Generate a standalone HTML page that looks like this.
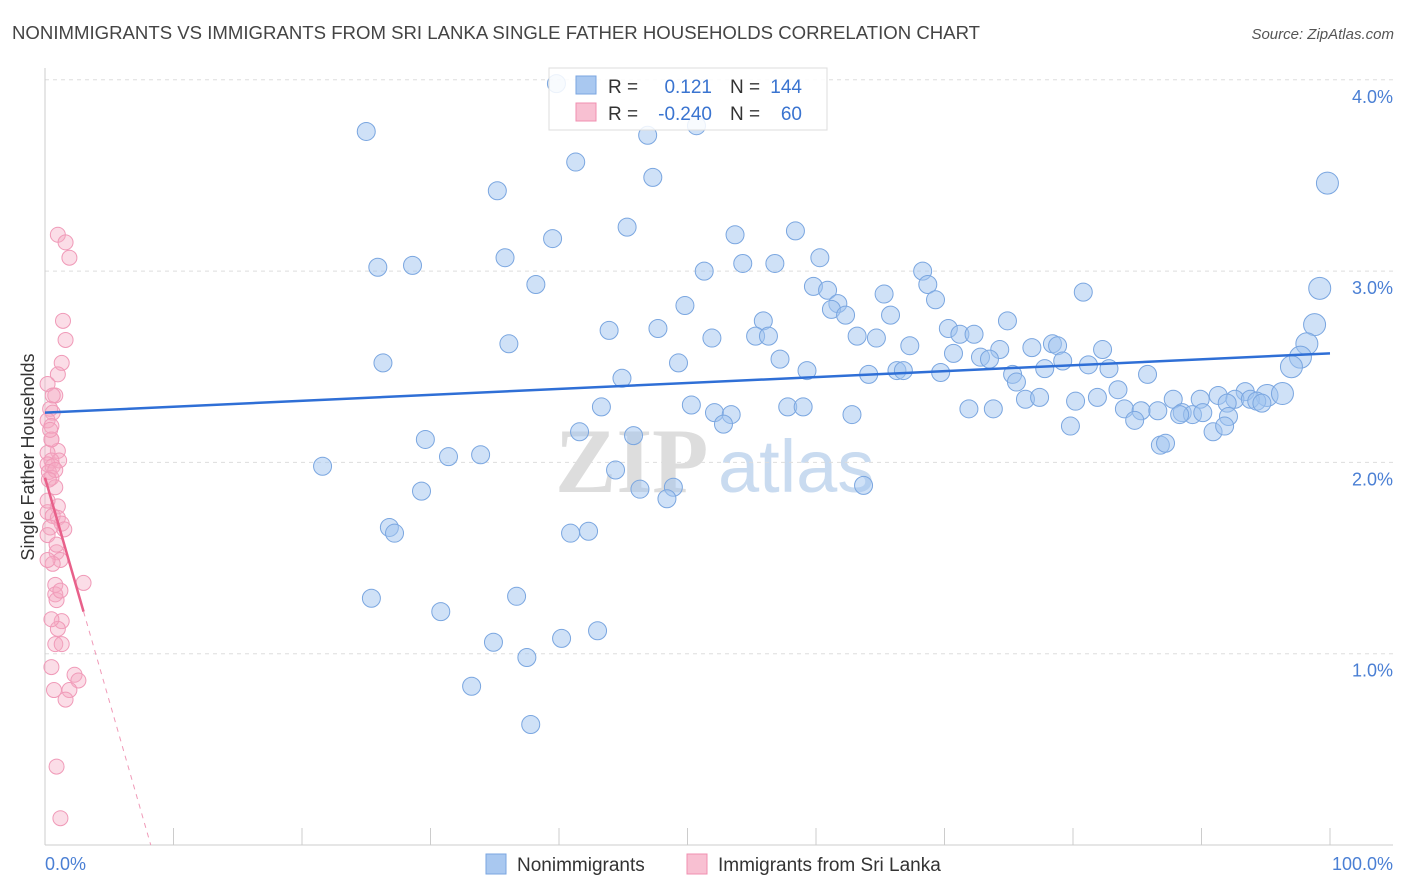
<!DOCTYPE html>
<html><head><meta charset="utf-8"><style>
body{margin:0;background:#fff;font-family:"Liberation Sans",sans-serif;}
</style></head><body>
<svg id="chart" width="1406" height="892" xmlns="http://www.w3.org/2000/svg" style="display:block">
<text x="12" y="39" font-size="18.6" fill="#444">NONIMMIGRANTS VS IMMIGRANTS FROM SRI LANKA SINGLE FATHER HOUSEHOLDS CORRELATION CHART</text>
<text x="1394" y="39" font-size="15" fill="#555" font-style="italic" text-anchor="end">Source: ZipAtlas.com</text>
<g>
<text x="555" y="492" font-size="92" fill="#ddd" font-family="Liberation Serif,serif" font-weight="bold">ZIP</text>
<text x="718" y="492" font-size="74" fill="#c9dbf0">atlas</text>
</g>
<g id="grid"></g>
<g id="axes"></g>
<g id="pts"></g>
<g id="lines"></g>
<text transform="translate(34,457) rotate(-90)" font-size="18" fill="#333" text-anchor="middle">Single Father Households</text>
<text x="45" y="870" font-size="18" fill="#4a7fd4">0.0%</text>
<text x="1393" y="870" font-size="18" fill="#4a7fd4" text-anchor="end">100.0%</text>
<g>
<rect x="549" y="68" width="278" height="62" fill="#fff" fill-opacity="0.85" stroke="#ddd"/>
<rect x="576" y="76" width="20" height="18" fill="#a9c8f0" stroke="#7aa6e0"/>
<rect x="576" y="103" width="20" height="18" fill="#f8c0d2" stroke="#f08fb0"/>
<text x="608" y="93" font-size="19" fill="#333">R = </text><text x="712" y="93" font-size="19" fill="#3a74d0" text-anchor="end">0.121</text>
<text x="730" y="93" font-size="19" fill="#333">N = </text><text x="802" y="93" font-size="19" fill="#3a74d0" text-anchor="end">144</text>
<text x="608" y="120" font-size="19" fill="#333">R = </text><text x="712" y="120" font-size="19" fill="#3a74d0" text-anchor="end">-0.240</text>
<text x="730" y="120" font-size="19" fill="#333">N = </text><text x="802" y="120" font-size="19" fill="#3a74d0" text-anchor="end">60</text>
</g>
<g>
<rect x="486" y="854" width="20" height="20" fill="#a9c8f0" stroke="#7aa6e0"/>
<text x="517" y="871" font-size="19" fill="#333">Nonimmigrants</text></g>
<g>
<rect x="687" y="854" width="20" height="20" fill="#f8c0d2" stroke="#f08fb0"/>
<text x="718" y="871" font-size="19" fill="#333">Immigrants from Sri Lanka</text></g>
</svg>
<script>
const blueX=[39.8,25.0,46.9,50.7,41.3,47.3,35.2,45.3,39.5,53.7,58.4,25.9,28.6,35.8,54.3,56.8,60.3,51.3,68.3,38.2,59.8,60.9,68.7,65.3,80.8,99.2,49.8,61.7,61.2,62.3,69.3,65.8,55.9,74.9,43.9,47.7,51.9,55.3,56.3,63.2,64.7,70.3,71.2,72.3,98.8,98.2,36.1,26.3,49.3,57.2,67.3,70.7,74.3,76.8,78.4,78.8,82.3,72.8,73.5,79.2,81.2,97.7,97.0,59.3,64.1,66.3,66.8,69.7,75.3,77.8,82.8,85.8,44.9,75.6,83.5,93.4,95.1,96.3,76.3,77.4,80.2,81.9,87.8,89.9,91.3,92.6,93.8,94.3,94.7,43.3,50.3,57.8,59.0,71.9,73.8,84.0,85.3,86.6,88.5,89.3,92.0,52.1,53.4,62.8,84.8,90.1,92.1,88.3,52.8,79.8,90.9,91.8,41.6,45.8,29.6,33.9,31.4,86.8,87.2,21.6,44.4,29.3,46.3,48.9,48.4,63.7,26.8,27.2,40.9,42.3,25.4,36.7,30.8,43.0,40.2,34.9,37.5,33.2,37.8,99.8];
const blueY=[3.98,3.73,3.71,3.76,3.57,3.49,3.42,3.23,3.17,3.19,3.21,3.02,3.03,3.07,3.04,3.04,3.07,3.00,3.00,2.93,2.92,2.90,2.93,2.88,2.89,2.91,2.82,2.83,2.80,2.77,2.85,2.77,2.74,2.74,2.69,2.70,2.65,2.66,2.66,2.66,2.65,2.70,2.67,2.67,2.72,2.62,2.62,2.52,2.52,2.54,2.61,2.57,2.59,2.60,2.62,2.61,2.59,2.55,2.54,2.53,2.51,2.55,2.50,2.48,2.46,2.48,2.48,2.47,2.46,2.49,2.49,2.46,2.44,2.42,2.38,2.37,2.35,2.36,2.33,2.34,2.32,2.34,2.33,2.33,2.35,2.33,2.33,2.32,2.31,2.29,2.30,2.29,2.29,2.28,2.28,2.28,2.27,2.27,2.26,2.25,2.31,2.26,2.25,2.25,2.22,2.26,2.24,2.25,2.20,2.19,2.16,2.19,2.16,2.14,2.12,2.04,2.03,2.09,2.10,1.98,1.96,1.85,1.86,1.87,1.81,1.88,1.66,1.63,1.63,1.64,1.29,1.30,1.22,1.12,1.08,1.06,0.98,0.83,0.63,3.46];
const pinkX=[1.0,1.6,1.9,1.4,1.6,1.3,1.0,0.2,0.8,0.4,0.6,0.2,0.5,0.5,1.0,0.2,1.1,0.5,0.2,0.6,0.3,0.5,0.8,1.0,0.2,0.6,1.0,1.3,1.5,0.4,0.9,1.2,0.6,0.8,3.0,0.8,0.9,1.3,1.0,0.8,1.3,0.5,2.3,2.6,0.7,1.9,1.6,0.9,1.2,0.2,0.8,0.2,0.5,0.6,1.2,0.2,0.5,0.4,0.9,0.3];
const pinkY=[3.19,3.15,3.07,2.74,2.64,2.52,2.46,2.41,2.35,2.28,2.26,2.22,2.19,2.12,2.06,2.05,2.01,2.01,1.99,1.98,1.95,1.92,1.87,1.77,1.74,1.72,1.71,1.68,1.65,1.66,1.53,1.49,1.47,1.36,1.37,1.31,1.28,1.17,1.13,1.05,1.05,0.93,0.89,0.86,0.81,0.81,0.76,0.41,0.14,1.62,1.96,1.80,2.12,2.35,1.33,1.49,1.18,2.17,1.57,1.91];
const blueTrend=[2.26,2.57];
const pinkTrend=[1.92,-0.2333];
const yTicks=[1,2,3,4];
const yTickLabels=["1.0%","2.0%","3.0%","4.0%"];
const xTicks=[0,10,20,30,40,50,60,70,80,90,100];

const NS="http://www.w3.org/2000/svg";
const X=v=>45+v*12.85, Y=v=>845-v*191.3;
function mk(t,a,p){const e=document.createElementNS(NS,t);for(const k in a)e.setAttribute(k,a[k]);p.appendChild(e);return e;}
const grid=document.getElementById('grid'),axes=document.getElementById('axes');
yTicks.forEach((t,i)=>{
 const l=mk('line',{x1:45,x2:1393,y1:Y(t),y2:Y(t),stroke:'#ddd','stroke-dasharray':'4,4'},grid);
 
 
 const tx=mk('text',{x:1393,y:Y(t)+23,'font-size':18,fill:'#4a7fd4','text-anchor':'end'},axes);
 tx.textContent=yTickLabels[i];
 
 
});
mk('line',{x1:45,x2:45,y1:68,y2:845,stroke:'#ccc'},axes);
mk('line',{x1:45,x2:1393,y1:845,y2:845,stroke:'#ccc'},axes);
xTicks.forEach(t=>{const l=mk('line',{x1:X(t),x2:X(t),y1:828,y2:845,stroke:'#ccc'},axes);
 
 });
const pts=document.getElementById('pts');
blueX.forEach((v,i)=>{const c=mk('circle',{cx:X(v),cy:Y(blueY[i]),r:v>95?11:9,fill:'rgba(160,195,240,0.5)',stroke:'#7aa6e0','stroke-width':1},pts);
 
 });
pinkX.forEach((v,i)=>{const c=mk('circle',{cx:X(v),cy:Y(pinkY[i]),r:7.5,fill:'rgba(245,170,195,0.4)',stroke:'#f09ab8','stroke-width':1},pts);
 
 });
const lines=document.getElementById('lines');
const bl=mk('line',{x1:X(0),y1:Y(blueTrend[0]),x2:X(100),y2:Y(blueTrend[1]),stroke:'#2f6fd6','stroke-width':2.5},lines);


const pEnd=3.0,pZero=-pinkTrend[0]/pinkTrend[1];
const pl=mk('line',{x1:X(0),y1:Y(pinkTrend[0]),x2:X(pEnd),y2:Y(pinkTrend[0]+pinkTrend[1]*pEnd),stroke:'#e8608a','stroke-width':2.5},lines);


const pd=mk('line',{x1:X(pEnd),y1:Y(pinkTrend[0]+pinkTrend[1]*pEnd),x2:X(pZero),y2:Y(0),stroke:'#f09ab8','stroke-width':1,'stroke-dasharray':'5,5'},lines);


</script>
</body></html>
